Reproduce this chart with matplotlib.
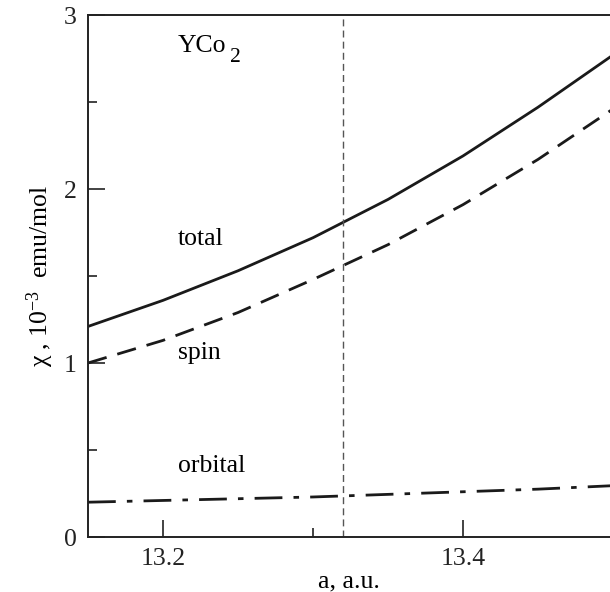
import matplotlib.pyplot as plt
from matplotlib.ticker import MultipleLocator

plt.rcParams['font.family'] = ['Liberation Serif', 'DejaVu Serif']
plt.rcParams['mathtext.fontset'] = 'custom'
plt.rcParams['mathtext.rm'] = 'Liberation Serif'
plt.rcParams['mathtext.it'] = 'Liberation Serif:italic'

# lattice parameter (a.u.)
a = [13.15, 13.20, 13.25, 13.30, 13.35, 13.40, 13.45, 13.50]
# susceptibility, 10^-3 emu/mol
chi_total = [1.21, 1.36, 1.53, 1.72, 1.94, 2.19, 2.47, 2.77]
chi_spin = [1.00, 1.13, 1.29, 1.48, 1.68, 1.91, 2.17, 2.46]
chi_orbital = [0.20, 0.21, 0.22, 0.23, 0.245, 0.26, 0.275, 0.295]
a_exp = 13.32

fig = plt.figure(figsize=(6.10, 5.92), dpi=100)
ax = fig.add_axes([88 / 610, 1 - 537 / 592, 522 / 610, 522 / 592])

ax.plot(a, chi_total, color='#1a1a1a', lw=2.0, solid_capstyle='butt')
ax.plot(a, chi_spin, color='#1a1a1a', lw=2.0, dashes=(7, 4))
ax.plot(a, chi_orbital, color='#1a1a1a', lw=2.0, dashes=(10, 4, 2, 4))
ax.axvline(a_exp, color='#555555', lw=1.0, dashes=(5, 3))

ax.set_xlim(13.15, 13.498)
ax.set_ylim(0, 3)
ax.xaxis.set_major_locator(MultipleLocator(0.2))
ax.xaxis.set_minor_locator(MultipleLocator(0.1))
ax.yaxis.set_major_locator(MultipleLocator(1))
ax.yaxis.set_minor_locator(MultipleLocator(0.5))
ax.tick_params(which='both', direction='in', top=False, right=False, labelsize=18.5, width=1.2, colors='#222222')
ax.tick_params(which='major', length=12, pad=8)
ax.tick_params(which='minor', length=6.5)
for s in ['left', 'bottom', 'top']:
    ax.spines[s].set_linewidth(1.4)
    ax.spines[s].set_color('#222222')
ax.spines['right'].set_visible(False)

ax.set_xlabel('a, a.u.', fontsize=18.5, labelpad=0)
ax.set_ylabel('\u03c7 , 10$^{-3}$  emu/mol', fontsize=18.5, labelpad=6)

# compound label with a lowered subscript
ax.text(13.21, 2.787, 'YCo', fontsize=18.5, va='baseline')
ax.text(13.2447, 2.73, '2', fontsize=15.5, va='baseline')
ax.text(13.21, 1.71, 'total', fontsize=18.5, va='center')
ax.text(13.21, 1.06, 'spin', fontsize=18.5, va='center')
ax.text(13.21, 0.41, 'orbital', fontsize=18.5, va='center')

fig.savefig('out.png', dpi=100)
